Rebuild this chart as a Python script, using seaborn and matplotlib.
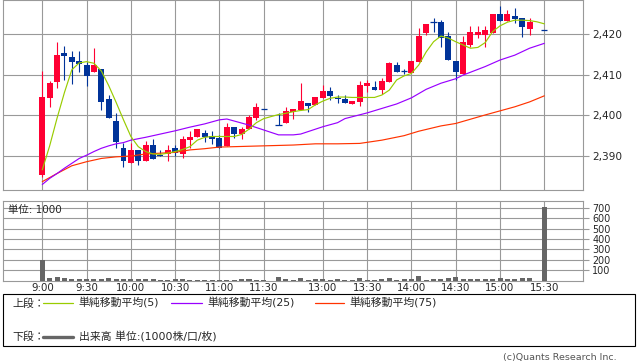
#!/usr/bin/env python3
"""Intraday 5-minute candlestick chart with moving averages and volume."""

import matplotlib
matplotlib.use("Agg")
import matplotlib.pyplot as plt
from matplotlib.lines import Line2D
from matplotlib.patches import Rectangle
import pandas as pd
import seaborn as sns

# --- data (5-minute bars; index 0 = 9:00, 31 and 67 have no bar) ---
bar_idx = [0, 1, 2, 3, 4, 5, 6, 7, 8, 9, 10, 11, 12, 13, 14, 15, 16, 17, 18, 19,
           20, 21, 22, 23, 24, 25, 26, 27, 28, 29, 30, 32, 33, 34, 35, 36, 37, 38, 39, 40,
           41, 42, 43, 44, 45, 46, 47, 48, 49, 50, 51, 52, 53, 54, 55, 56, 57, 58, 59, 60,
           61, 62, 63, 64, 65, 66, 68]
opens = [2385.3, 2404.3, 2408.3, 2415.4, 2414.3, 2413.4, 2412.3, 2410.7, 2411.4, 2404.0,
         2398.6, 2392.0, 2388.4, 2391.5, 2388.8, 2392.7, 2390.3, 2390.5, 2392.0, 2390.4,
         2393.9, 2394.6, 2395.7, 2394.8, 2394.5, 2392.5, 2397.1, 2395.4, 2396.6, 2399.4,
         2401.5, 2397.7, 2398.0, 2400.9, 2401.4, 2403.0, 2402.5, 2404.3, 2406.0, 2404.2,
         2403.9, 2402.9, 2403.4, 2407.2, 2406.9, 2406.2, 2408.3, 2412.4, 2410.9, 2410.3,
         2413.2, 2420.2, 2422.9, 2422.9, 2419.5, 2413.4, 2410.2, 2417.3, 2419.8, 2419.8,
         2420.3, 2424.9, 2423.3, 2424.4, 2423.9, 2421.2, 2420.9]
highs = [2411.0, 2408.5, 2418.0, 2417.1, 2415.8, 2415.8, 2413.2, 2416.6, 2411.4, 2405.0,
         2400.5, 2393.3, 2393.1, 2391.5, 2393.8, 2394.3, 2391.5, 2392.7, 2392.7, 2394.8,
         2396.1, 2396.6, 2396.3, 2396.1, 2395.2, 2398.0, 2397.1, 2397.1, 2400.1, 2403.0,
         2401.5, 2400.5, 2402.0, 2401.5, 2408.0, 2403.0, 2404.4, 2407.5, 2406.9, 2405.0,
         2405.0, 2403.5, 2408.4, 2408.7, 2408.4, 2409.1, 2413.2, 2413.0, 2411.4, 2413.4,
         2421.4, 2422.5, 2423.9, 2423.4, 2420.6, 2413.4, 2419.5, 2422.0, 2422.0, 2422.0,
         2424.9, 2426.9, 2425.9, 2426.5, 2423.9, 2423.9, 2420.9]
lows = [2384.9, 2402.0, 2406.8, 2408.7, 2407.7, 2410.7, 2407.3, 2410.7, 2401.3, 2399.4,
        2391.9, 2387.4, 2388.4, 2387.8, 2388.8, 2389.3, 2390.0, 2388.8, 2389.9, 2389.4,
        2392.0, 2394.6, 2393.5, 2392.9, 2391.9, 2392.5, 2394.5, 2394.2, 2396.6, 2398.9,
        2401.5, 2397.7, 2398.0, 2399.0, 2401.4, 2400.9, 2402.5, 2404.3, 2403.8, 2403.0,
        2403.0, 2402.9, 2402.3, 2405.8, 2406.2, 2405.2, 2408.3, 2410.7, 2410.2, 2410.3,
        2413.2, 2419.8, 2420.6, 2416.9, 2413.6, 2408.7, 2410.2, 2416.7, 2418.9, 2416.9,
        2420.3, 2423.3, 2423.3, 2422.8, 2419.3, 2419.8, 2420.9]
closes = [2404.6, 2408.0, 2414.8, 2414.7, 2413.2, 2412.7, 2409.7, 2412.4, 2403.4, 2399.4,
          2393.5, 2388.8, 2391.5, 2388.8, 2392.7, 2389.3, 2390.0, 2391.5, 2390.8, 2394.2,
          2394.7, 2396.6, 2394.6, 2394.2, 2391.9, 2397.2, 2395.4, 2396.6, 2399.7, 2402.1,
          2401.5, 2397.7, 2401.1, 2401.5, 2403.5, 2402.4, 2404.4, 2406.0, 2404.8, 2404.0,
          2403.0, 2403.5, 2407.4, 2407.9, 2406.2, 2408.4, 2412.8, 2410.7, 2410.9, 2413.4,
          2419.5, 2422.5, 2422.9, 2418.9, 2413.6, 2410.7, 2418.0, 2420.4, 2420.4, 2421.0,
          2424.9, 2423.3, 2424.9, 2423.7, 2421.8, 2423.0, 2420.9]
volumes = [195, 20, 30, 20, 10, 10, 10, 10, 10, 20, 10, 10, 10, 10, 10, 10, 3, 3, 10, 10,
           3, 3, 3, 3, 3, 3, 3, 10, 10, 3, 3, 30, 10, 3, 20, 5, 13, 13, 6, 13,
           5, 5, 20, 5, 5, 13, 20, 5, 13, 13, 48, 3, 13, 13, 20, 29, 13, 13, 13, 13,
           13, 20, 13, 13, 20, 20, 705]

# moving averages
ma5_idx = [0, 1, 2, 3, 4, 5, 6, 7, 8, 9, 10, 11, 12, 13, 14, 15, 16, 17, 18, 19, 20,
           21, 22, 23, 24, 25, 26, 27, 28, 29, 30, 32, 33, 34, 35, 36, 37, 38, 39, 40,
           41, 42, 43, 44, 45, 46, 47, 48, 49, 50, 51, 52, 53, 54, 55, 56, 57, 58, 59,
           60, 61, 62, 63, 64, 65, 66, 67, 68]
ma5 = [2386.6, 2392.5, 2399.3, 2405.6, 2411.2, 2412.9, 2413.2, 2412.8, 2410.9, 2407.3,
       2403.2, 2398.9, 2394.8, 2392.3, 2391.1, 2390.5, 2390.4, 2390.7, 2391.1, 2391.6,
       2392.3, 2393.9, 2394.6, 2394.8, 2394.8, 2394.8, 2394.8, 2395.3, 2396.6, 2398.2,
       2399.2, 2400.2, 2400.5, 2400.9, 2401.2, 2401.4, 2402.6, 2403.5, 2404.2, 2404.5,
       2404.5, 2404.4, 2404.4, 2404.4, 2404.4, 2405.0, 2406.2, 2408.7, 2409.7, 2410.3,
       2412.4, 2415.6, 2418.1, 2419.5, 2419.0, 2418.1, 2417.3, 2416.5, 2416.7, 2417.9,
       2420.6, 2422.0, 2422.9, 2423.4, 2423.4, 2423.3, 2423.0, 2422.5]
ma25_idx = [0, 1, 2, 3, 4, 5, 6, 7, 8, 9, 10, 11, 12, 14, 16, 18, 20, 22, 24, 25, 26,
            28, 30, 32, 34, 35, 37, 38, 40, 41, 44, 46, 48, 50, 52, 54, 56, 57, 60, 62,
            64, 66, 68]
ma25 = [2383.0, 2384.5, 2385.7, 2387.0, 2388.2, 2389.4, 2390.2, 2391.1, 2391.9, 2392.5,
        2393.0, 2393.3, 2393.9, 2394.6, 2395.4, 2396.2, 2397.1, 2397.9, 2398.9, 2399.1,
        2398.6, 2397.6, 2396.4, 2395.2, 2395.2, 2395.4, 2396.6, 2397.2, 2398.2, 2399.2,
        2400.6, 2401.7, 2402.8, 2404.3, 2406.4, 2407.9, 2409.0, 2409.9, 2412.0, 2413.6,
        2414.8, 2416.5, 2417.7]
ma75_idx = [0, 2, 4, 6, 8, 10, 12, 14, 16, 18, 20, 22, 24, 26, 30, 32, 34, 37, 40, 43,
            46, 49, 51, 54, 56, 60, 62, 64, 66, 68]
ma75 = [2383.7, 2385.7, 2387.6, 2388.6, 2389.4, 2389.8, 2390.0, 2390.5, 2390.7, 2390.9,
        2391.5, 2391.8, 2392.2, 2392.3, 2392.5, 2392.6, 2392.7, 2393.0, 2393.0, 2393.1,
        2393.9, 2395.0, 2396.1, 2397.4, 2398.0, 2400.1, 2401.1, 2402.1, 2403.3, 2404.8]

tick_pos = [0, 6, 12, 18, 24, 30, 38, 44, 50, 56, 62, 68]
tick_labels = ["9:00", "9:30", "10:00", "10:30", "11:00", "11:30",
               "13:00", "13:30", "14:00", "14:30", "15:00", "15:30"]
price_ticks = [2390, 2400, 2410, 2420]
price_labels = ["2,390", "2,400", "2,410", "2,420"]
vol_ticks = [100, 200, 300, 400, 500, 600, 700]

UP, DOWN = "#ff0033", "#003399"
GRID = "#999999"
W, H = 638, 362


def fx(px):
    return px / W


def fy(py):
    return 1 - py / H


sns.set_theme(style="white")
plt.rcParams["font.family"] = ["DejaVu Sans", "Noto Sans CJK JP"]

fig = plt.figure(figsize=(W / 100, H / 100), dpi=100)
ax_p = fig.add_axes([fx(3.3), fy(190.3), fx(582.7 - 3.3), 190.3 / H])
ax_v = fig.add_axes([fx(3.3), fy(280.5), fx(582.7 - 3.3), (280.5 - 201) / H])

xlim = (-5.28, 73.2)
for ax in (ax_p, ax_v):
    ax.set_xlim(*xlim)
    ax.set_xticks(tick_pos)
    ax.grid(True, color=GRID, lw=0.8)
    ax.set_axisbelow(True)
    for sp in ax.spines.values():
        sp.set_color(GRID)
        sp.set_linewidth(0.8)
    ax.yaxis.tick_right()
    ax.tick_params(axis="y", direction="out", length=4.3, width=0.8, color=GRID, pad=2.5)
    ax.tick_params(axis="x", length=0)

# candles
ups = [c > o for o, c in zip(opens, closes)]
colors = [UP if u else DOWN for u in ups]
ax_p.vlines(bar_idx, lows, highs, colors=colors, lw=0.8, zorder=2)
body_x = [i for i, o, c in zip(bar_idx, opens, closes) if o != c]
body_b = [min(o, c) for o, c in zip(opens, closes) if o != c]
body_h = [abs(c - o) for o, c in zip(opens, closes) if o != c]
body_c = [col for col, o, c in zip(colors, opens, closes) if o != c]
ax_p.bar(body_x, body_h, bottom=body_b, width=0.81, color=body_c, linewidth=0, zorder=3)
doji = [(i, o) for i, o, c in zip(bar_idx, opens, closes) if o == c]
ax_p.hlines([p for _, p in doji], [i - 0.42 for i, _ in doji], [i + 0.42 for i, _ in doji],
            colors=DOWN, lw=0.9, zorder=3)

# moving averages
sns.lineplot(data=pd.DataFrame({"i": ma75_idx, "v": ma75}), x="i", y="v", ax=ax_p,
             color="#ff3300", lw=0.85, zorder=4)
sns.lineplot(data=pd.DataFrame({"i": ma25_idx, "v": ma25}), x="i", y="v", ax=ax_p,
             color="#9900ff", lw=0.85, zorder=4)
sns.lineplot(data=pd.DataFrame({"i": ma5_idx, "v": ma5}), x="i", y="v", ax=ax_p,
             color="#99cc00", lw=0.85, zorder=5)

ax_p.set_ylim(2381.57, 2428.36)
ax_p.set_yticks(price_ticks)
ax_p.set_yticklabels(price_labels, fontsize=7.6)
ax_p.set_xticklabels([])
ax_p.set_xlabel("")
ax_p.set_ylabel("")

# volume
ax_v.bar(bar_idx, volumes, width=0.68, color="#666666", linewidth=0, zorder=3)
ax_v.set_ylim(0, 766)
ax_v.set_yticks(vol_ticks)
ax_v.set_yticklabels([str(v) for v in vol_ticks], fontsize=6.9)
ax_v.set_xticklabels(tick_labels, fontsize=7.4)
ax_v.tick_params(axis="x", pad=2)
fig.text(fx(8), fy(210), "単位: 1000", fontsize=7.5, va="center", ha="left")

# legend box
fig.patches.append(Rectangle((fx(3.3), fy(345.7)), fx(635.3 - 3.3), (345.7 - 294.3) / H,
                             transform=fig.transFigure, fill=False, edgecolor="black",
                             lw=0.8))
row1, row2 = fy(303.3), fy(336.7)
fig.text(fx(12), row1, "上段：", fontsize=7.8, va="center")
fig.text(fx(12), row2, "下段：", fontsize=7.8, va="center")
for x0, x1, col, label in [(43, 73, "#99cc00", "単純移動平均(5)"),
                           (171, 202, "#9900ff", "単純移動平均(25)"),
                           (315, 344, "#ff3300", "単純移動平均(75)")]:
    fig.lines.append(Line2D([fx(x0), fx(x1)], [row1, row1], transform=fig.transFigure,
                            color=col, lw=0.9))
    fig.text(fx(x1 + 5), row1, label, fontsize=7.8, va="center")
fig.lines.append(Line2D([fx(43), fx(73)], [row2, row2], transform=fig.transFigure,
                        color="#666666", lw=2.4))
fig.text(fx(79), row2, "出来高 単位:(1000株/口/枚)", fontsize=7.8, va="center")

fig.text(fx(617), fy(357.5), "(c)Quants Research Inc.", fontsize=6.8, color="#555555",
         ha="right", va="center")

fig.savefig("out.png", dpi=100)
